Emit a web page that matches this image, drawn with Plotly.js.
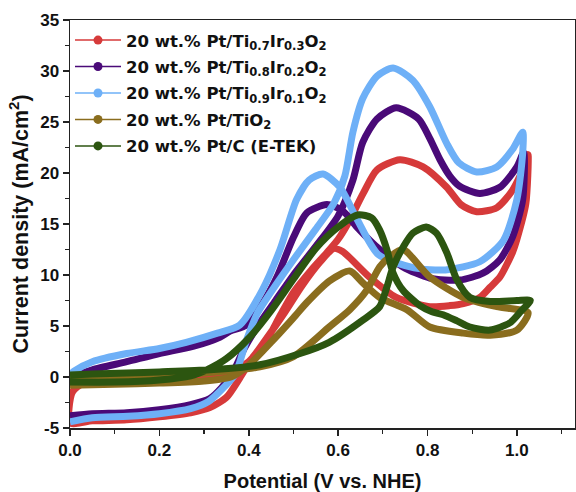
<!DOCTYPE html>
<html>
<head>
<meta charset="utf-8">
<script src="https://cdn.plot.ly/plotly-3.0.1.min.js"></script>
<style>html,body{margin:0;padding:0;background:#fff;}#chart{width:576px;height:492px;}</style>
</head>
<body>
<div id="chart"></div>
<script>
// Series names (legend)
const seriesNames = [
  "20 wt.% Pt/Ti<sub>0.7</sub>Ir<sub>0.3</sub>O<sub>2</sub>",
  "20 wt.% Pt/Ti<sub>0.8</sub>Ir<sub>0.2</sub>O<sub>2</sub>",
  "20 wt.% Pt/Ti<sub>0.9</sub>Ir<sub>0.1</sub>O<sub>2</sub>",
  "20 wt.% Pt/TiO<sub>2</sub>",
  "20 wt.% Pt/C (E-TEK)"
];
const seriesColors = ["#d63a3a", "#4a0a78", "#6eb0f7", "#8a6d1e", "#2c5510"];

// Potential (V vs. NHE) and current density (mA/cm2), closed CV loops
const v_Ti07Ir03 = [0,0.05,0.127,0.2,0.27,0.313,0.35,0.38,0.41,0.44,0.47,0.5,0.54,0.575,0.6,0.62,0.656,0.687,0.738,0.79,0.843,0.875,0.91,0.955,0.99,1.02,1.025,
  1.02,1.0,0.99,0.962,0.94,0.917,0.88,0.85,0.805,0.73,0.67,0.61,0.59,0.56,0.52,0.48,0.44,0.4,0.35,0.3,0.2,0.1,0.03,0.005,0];
const j_Ti07Ir03 = [-4.5,-4.3,-4.2,-3.9,-3.5,-3.0,-2.0,-0.1,2.0,3.6,6.0,8.3,10.5,12.2,13.5,14.9,18.0,20.3,21.3,20.6,18.6,16.9,16.2,16.6,18.3,21.0,21.8,
  17.0,13.5,12.2,9.8,8.8,7.8,7.2,7.0,6.9,7.8,9.8,12.3,12.6,11.3,9.0,6.3,3.8,1.5,0.3,-0.1,-0.3,-0.5,-0.6,-1.5,-4.5];

const v_Ti08Ir02 = [0,0.05,0.127,0.2,0.27,0.313,0.34,0.365,0.39,0.42,0.46,0.5,0.55,0.6,0.633,0.655,0.687,0.73,0.78,0.805,0.828,0.85,0.872,0.917,0.962,1.0,1.015,
  1.013,0.99,0.962,0.925,0.872,0.805,0.745,0.693,0.642,0.61,0.575,0.53,0.5,0.463,0.432,0.395,0.358,0.335,0.275,0.2,0.127,0.05,0.01,0];
const j_Ti08Ir02 = [-3.8,-3.6,-3.5,-3.2,-2.7,-2.1,-1.0,0.5,2.8,5.0,7.5,10.0,12.8,15.8,19.3,23.0,25.3,26.4,25.3,23.4,21.3,19.7,18.7,18.0,18.6,20.6,22.0,
  17.4,13.7,11.5,10.2,9.5,9.7,10.8,12.5,14.7,16.3,16.9,16.1,13.7,9.8,7.3,5.1,4.5,3.9,3.0,2.3,1.5,0.7,0.0,-0.5];

const v_Ti09Ir01 = [0,0.05,0.13,0.2,0.27,0.31,0.34,0.37,0.395,0.42,0.46,0.5,0.55,0.59,0.615,0.633,0.655,0.687,0.723,0.767,0.805,0.843,0.87,0.91,0.955,0.99,1.013,
  1.013,1.0,0.97,0.917,0.84,0.77,0.69,0.642,0.604,0.566,0.535,0.507,0.47,0.43,0.38,0.33,0.26,0.2,0.127,0.05,0.01,0];
const j_Ti09Ir01 = [-4.4,-4.0,-3.85,-3.6,-3.1,-2.4,-1.2,0.3,3.6,6.3,9.0,11.5,14.5,17.0,19.7,24.0,27.3,29.5,30.3,29.1,26.5,22.9,21.0,20.1,20.6,22.3,24.0,
  22.0,17.4,13.4,11.3,10.5,10.7,12.0,15.5,18.6,19.9,19.3,17.4,12.5,8.5,5.1,4.3,3.4,2.8,2.3,1.5,0.6,0.2];

const v_TiO2 = [0,0.1,0.2,0.3,0.36,0.396,0.454,0.5,0.53,0.58,0.626,0.656,0.693,0.754,0.805,0.88,0.94,1.0,1.025,
  0.955,0.88,0.805,0.745,0.716,0.693,0.664,0.626,0.58,0.5,0.425,0.3,0.2,0.1,0];
const j_TiO2 = [-0.8,-0.7,-0.6,-0.4,0.0,1.0,3.6,5.8,7.3,9.4,10.4,9.2,7.8,6.6,4.9,4.3,4.1,4.6,6.3,
  6.9,7.8,9.8,12.5,11.8,10.8,8.5,6.6,4.9,2.0,1.0,0.4,0.2,0.1,0.0];

const v_PtC = [0,0.1,0.2,0.27,0.306,0.35,0.4,0.45,0.5,0.55,0.6,0.645,0.675,0.693,0.709,0.723,0.745,0.783,0.81,0.835,0.866,0.895,0.94,0.984,1.01,1.03,
  1.0,0.94,0.895,0.866,0.843,0.82,0.797,0.767,0.745,0.723,0.709,0.693,0.656,0.58,0.515,0.425,0.313,0.2,0.127,0.05,0];
const j_PtC = [-0.5,-0.5,-0.3,0.1,0.7,1.8,3.8,6.5,9.6,12.6,14.7,15.9,15.6,14.4,12.5,10.2,8.5,7.0,6.4,6.1,5.5,4.9,4.6,5.3,6.5,7.5,
  7.5,7.4,7.8,9.5,12.2,14.1,14.7,14.1,12.7,10.8,8.8,6.9,5.6,3.4,2.3,1.2,0.7,0.5,0.4,0.3,0.2];

const xTicks = [0.0, 0.2, 0.4, 0.6, 0.8, 1.0];
const yTicks = [-5, 0, 5, 10, 15, 20, 25, 30, 35];

const seriesV = [v_Ti07Ir03, v_Ti08Ir02, v_Ti09Ir01, v_TiO2, v_PtC];
const seriesJ = [j_Ti07Ir03, j_Ti08Ir02, j_Ti09Ir01, j_TiO2, j_PtC];

const traces = [];
for (let i = 0; i < seriesV.length; i++) {
  traces.push({
    x: seriesV[i], y: seriesJ[i], type: 'scatter', mode: 'lines',
    line: {color: seriesColors[i], width: 7, shape: 'spline', smoothing: 0.7},
    showlegend: false, hoverinfo: 'skip'
  });
}
for (let i = 0; i < seriesV.length; i++) {
  traces.push({
    x: [null], y: [null], type: 'scatter', mode: 'lines+markers', name: seriesNames[i],
    legendgroup: 'g' + i,
    line: {color: seriesColors[i], width: 1.5},
    marker: {color: seriesColors[i], size: 9}
  });
}

const font = {family: 'Liberation Sans, Arial, sans-serif', color: '#111', weight: 'bold'};
const legendFont = {family: 'DejaVu Sans, sans-serif', color: '#111', weight: 'bold', size: 16.5};
const layout = {
  width: 576, height: 492,
  margin: {l: 70, r: 1, t: 20, b: 64},
  paper_bgcolor: '#fff', plot_bgcolor: '#fff',
  showlegend: true,
  legend: {x: 0.0, y: 0.993, xanchor: 'left', yanchor: 'top', bgcolor: 'rgba(0,0,0,0)',
    font: legendFont, tracegroupgap: 2, itemwidth: 46},
  xaxis: {
    range: [0, 1.13], tickvals: xTicks, ticktext: xTicks.map(v => v.toFixed(1)),
    ticks: 'outside', ticklen: 6, tickwidth: 1.5, tickcolor: '#222',
    minor: {dtick: 0.1, tick0: 0, ticks: 'outside', ticklen: 4, tickwidth: 1.2, tickcolor: '#222'},
    showline: true, linecolor: '#222', linewidth: 1.5, mirror: true,
    showgrid: false, zeroline: false,
    tickfont: Object.assign({}, font, {size: 17}),
    title: {text: 'Potential (V vs. NHE)', font: Object.assign({}, font, {size: 20}), standoff: 16}
  },
  yaxis: {
    range: [-5, 35], tickvals: yTicks, ticktext: yTicks.map(String),
    ticks: 'outside', ticklen: 6, tickwidth: 1.5, tickcolor: '#222',
    minor: {dtick: 2.5, tick0: 0, ticks: 'outside', ticklen: 4, tickwidth: 1.2, tickcolor: '#222'},
    showline: true, linecolor: '#222', linewidth: 1.5, mirror: true,
    showgrid: false, zeroline: false,
    tickfont: Object.assign({}, font, {size: 17}),
    title: {text: 'Current density (mA/cm<sup>2</sup>)', font: Object.assign({}, font, {size: 21.5}), standoff: 5}
  }
};

Plotly.newPlot('chart', traces, layout, {displayModeBar: false, staticPlot: true});
</script>
</body>
</html>
